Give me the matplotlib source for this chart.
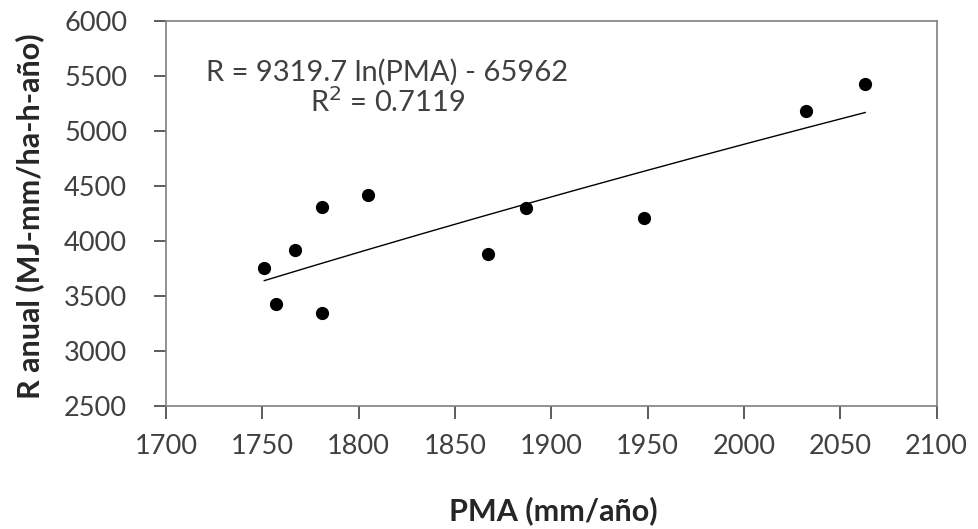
import numpy as np
import matplotlib.pyplot as plt

pma = [1751, 1757, 1767, 1781, 1781, 1805, 1867, 1887, 1948, 2032, 2063]
r_anual = [3754, 3422, 3915, 4309, 3340, 4415, 3876, 4295, 4204, 5179, 5422]

# fitted curve from the equation shown on the chart
coef_a = 9319.7
coef_b = -65962
fit_x = np.linspace(min(pma), max(pma), 200)
fit_y = coef_a * np.log(fit_x) + coef_b

plt.rcParams['font.family'] = ['Lato', 'DejaVu Sans']

fig = plt.figure(figsize=(9.79, 5.29), dpi=100)
ax = fig.add_axes([0.1696, 0.233, 0.787, 0.728])

ax.plot(fit_x, fit_y, color='black', lw=1.0)
ax.plot(pma, r_anual, 'o', color='black', markersize=8.5)

ax.set_xlim(1700, 2100)
ax.set_ylim(2500, 6000)
ax.set_xticks(np.arange(1700, 2101, 50))
ax.set_yticks(np.arange(2500, 6001, 500))

for s in ax.spines.values():
    s.set_color('#7f7f7f')
    s.set_linewidth(1.2)
ax.tick_params(direction='out', length=9, width=1.2, color='#404040',
               labelsize=19.5, labelcolor='#404040')
ax.tick_params(axis='x', pad=11)
ax.tick_params(axis='y', pad=19)

ax.set_xlabel('PMA (mm/año)', fontsize=22, fontweight='bold', color='#262626')
ax.set_ylabel('R anual (MJ-mm/ha-h-año)', fontsize=22, fontweight='bold', color='#262626')
ax.xaxis.set_label_coords(0.503, -0.235)
ax.yaxis.set_label_coords(-0.158, 0.493)

ax.text(1815, 5534, 'R = 9319.7 ln(PMA) - 65962', fontsize=21, color='#404040', ha='center', va='center')
ax.text(1815, 5261, 'R$^2$ = 0.7119', fontsize=21, color='#404040', ha='center', va='center')

fig.savefig('out.png', dpi=100)
